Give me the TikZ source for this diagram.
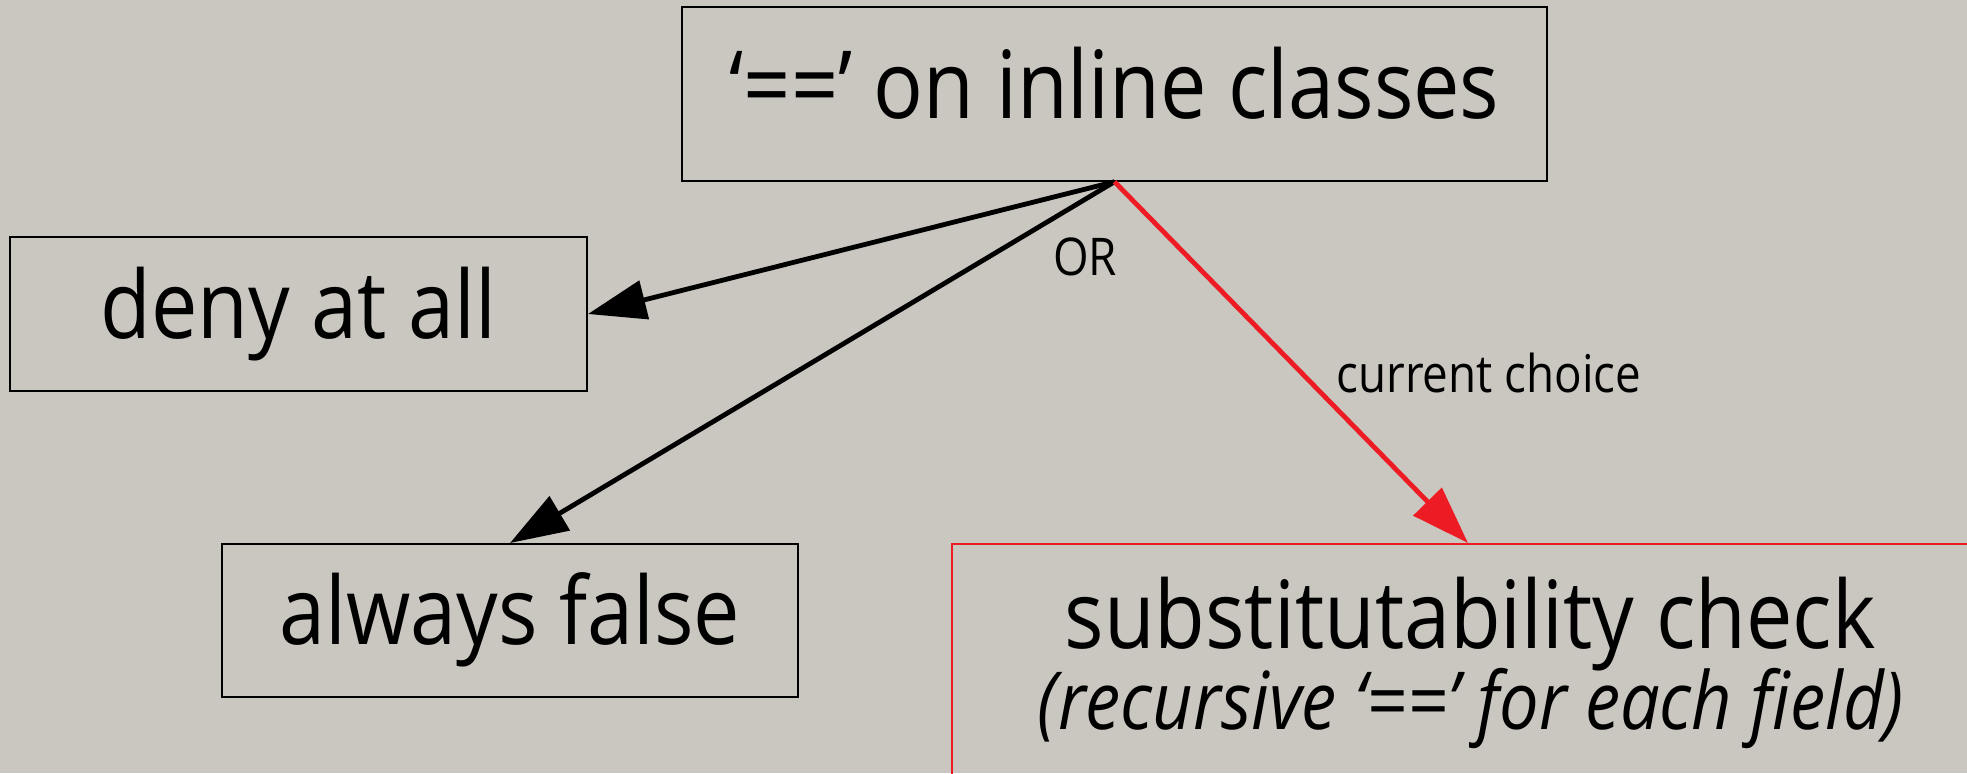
\documentclass[tikz,border=0pt]{standalone}
\usepackage{fontspec}
\setmainfont{Open Sans}[FakeStretch=0.88]
\usetikzlibrary{arrows.meta}
\definecolor{bgcol}{HTML}{CAC6C0}
\definecolor{choicered}{HTML}{ED1C24}
\begin{document}
\begin{tikzpicture}[x=0.5pt,y=-0.5pt,
  box/.style={draw=black, line width=1pt, inner sep=0pt, align=center,
    font=\fontsize{47}{56}\selectfont, text height=36pt, text depth=12pt},
  redbox/.style={draw=choicered, line width=1pt, inner sep=0pt},
  bigtext/.style={inner sep=0pt, font=\fontsize{47}{56}\selectfont},
  notetext/.style={inner sep=0pt, font=\fontsize{40}{48}\selectfont\itshape},
  edgelabel/.style={inner sep=0pt, font=\fontsize{26}{31}\selectfont},
  arrow/.style={line width=2.4pt, -{Triangle[length=29pt,width=19.5pt]}},
]
\fill[bgcol] (0,0) rectangle (1967,773);
\useasboundingbox (0,0) rectangle (1967,773);

% decision and its alternatives
\node[box, minimum width=432.5pt, minimum height=86.75pt] (top) at (1114.5,94) {‘==’ on inline classes};
\node[box, minimum width=288.5pt, minimum height=77pt] (deny) at (298.5,314) {deny at all};
\node[box, minimum width=288pt, minimum height=76.5pt] (never) at (510,620.5) {always false};
\node[redbox, minimum width=516pt, minimum height=119pt] (sub) at (1468,663) {};
\node[bigtext, anchor=base] (subtitle) at (1470,648) {substitutability check};
\node[notetext, anchor=base] (subnote) at (1471,729) {(recursive ‘==’ for each field)};

% connectors
\draw[arrow] (top.south) -- (deny.east);
\draw[arrow] (top.south) -- (never.north);
\draw[arrow, choicered] (top.south) -- (sub.north);

\node[edgelabel] (orlabel) at (1085,257) {OR};
\node[edgelabel] (choicelabel) at (1489,373) {current choice};
\end{tikzpicture}
\end{document}
